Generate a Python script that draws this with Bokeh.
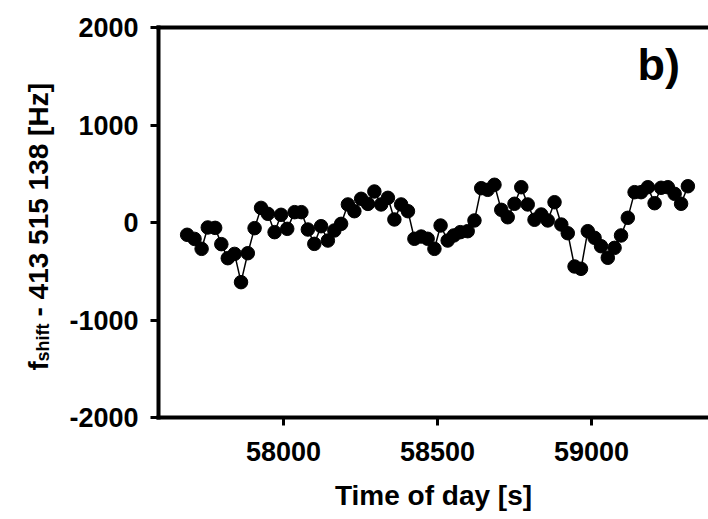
import math
from bokeh.plotting import figure
from bokeh.layouts import row
from bokeh.models import LinearAxis, FixedTicker, Label, Range1d
from bokeh.core.properties import value
from bokeh.embed import file_html
from bokeh.resources import INLINE

# ---- data ----
time_s = [57687, 57711, 57734, 57754, 57778, 57798, 57819, 57841, 57862, 57884,
          57906, 57927, 57949, 57971, 57992, 58012,
          58036, 58058, 58079, 58100, 58122, 58144, 58165, 58187, 58209, 58230,
          58252, 58274, 58295, 58317, 58339, 58360, 58382, 58404, 58425, 58447,
          58468, 58490, 58510,
          58533, 58553, 58574, 58598, 58620, 58642, 58663, 58685, 58707, 58728,
          58750, 58772, 58793, 58815, 58837, 58858, 58880, 58902, 58923, 58945,
          58966, 58988, 59010, 59031, 59053, 59075, 59096, 59118, 59140, 59161,
          59183, 59205, 59226, 59248, 59270, 59291, 59313]
f_shift = [-126, -168, -270, -51, -55, -222, -366, -322, -612, -315,
           -58, 150, 89, -99, 79, -65,
           106, 106, -72, -219, -38, -185, -82, -14, 185, 116,
           243, 191, 318, 185, 253, 31, 185, 116, -167, -144,
           -167, -270, -31,
           -185, -133, -99, -89, 21, 352, 335, 387, 130, 54,
           192, 362, 185, 28, 82, 21, 208, -21, -110, -451,
           -475, -89, -157, -243, -362, -260, -133, 48, 311, 311,
           362, 198, 356, 362, 294, 192, 372]
x_ticks = [58000, 58500, 59000]
y_ticks = [-2000, -1000, 0, 1000, 2000]
y_tick_labels = {-2000: "-2000", -1000: "-1000", 0: "0", 1000: "1000", 2000: "2000"}

X0, X1 = 57594, 59380
Y0, Y1 = -2000, 2000

FONT = "Liberation Sans"
W, H = 708, 519
LEFT_W = 62          # width of the strip holding the rotated y label
FRAME_L, FRAME_T, FRAME_B = 158, 27, 417   # page pixels

# ---------------- main plot ----------------
p = figure(width=W - LEFT_W, height=H, output_backend="svg", toolbar_location=None,
           x_range=Range1d(X0, X1), y_range=Range1d(Y0, Y1),
           min_border_left=FRAME_L - LEFT_W, min_border_right=0,
           min_border_top=FRAME_T, min_border_bottom=H - FRAME_B,
           x_axis_type=None, y_axis_type=None)
p.outline_line_color = None
p.xgrid.visible = False
p.ygrid.visible = False
p.background_fill_color = "white"
p.border_fill_color = "white"

def style_axis(ax):
    ax.axis_line_width = 4
    ax.axis_line_color = "black"
    ax.axis_line_cap = "square"
    ax.major_tick_line_width = 3
    ax.major_tick_line_color = "black"
    ax.major_tick_in = 0
    ax.major_tick_out = 8
    ax.minor_tick_line_color = None
    ax.major_label_text_font = FONT
    ax.major_label_text_font_style = "bold"
    ax.major_label_text_font_size = "27px"
    ax.major_label_text_color = "black"

xb = LinearAxis(ticker=FixedTicker(ticks=x_ticks))
style_axis(xb)
xb.major_label_standoff = 16
xb.axis_label = "Time of day [s]"
xb.axis_label_text_font = FONT
xb.axis_label_text_font_style = "bold"
xb.axis_label_text_font_size = "28px"
xb.axis_label_text_color = "black"
xb.axis_label_standoff = 16
p.add_layout(xb, "below")

yl = LinearAxis(ticker=FixedTicker(ticks=y_ticks))
style_axis(yl)
yl.major_label_standoff = 12
yl.major_label_overrides = y_tick_labels
p.add_layout(yl, "left")

xt = LinearAxis(ticker=FixedTicker(ticks=[]))
xt.axis_line_width = 4
xt.axis_line_color = "black"
xt.axis_line_cap = "square"
xt.major_tick_out = 0
xt.major_tick_in = 0
xt.minor_tick_out = 0
xt.minor_tick_in = 0
xt.major_label_standoff = 0
xt.major_label_text_font_size = "0px"
p.add_layout(xt, "above")

# data
p.line(time_s, f_shift, line_color="black", line_width=1.5)
p.scatter(time_s, f_shift, size=13.5, fill_color="black", line_color="black")

def y_at(sy):
    return Y1 - (sy - FRAME_T) * (Y1 - Y0) / (FRAME_B - FRAME_T)

def x_at(sx):
    return X0 + (sx - FRAME_L) * (X1 - X0) / (W - FRAME_L)

# panel letter
p.add_layout(Label(x=x_at(637), y=y_at(64), text="b)", text_font=FONT,
                   text_font_style="bold", text_font_size="45px",
                   text_align="left", text_baseline="alphabetic", text_color="black"))

# ---------------- y label strip (frame aligned with the main frame) ----------------
FH = FRAME_B - FRAME_T
q = figure(width=LEFT_W, height=H, output_backend="svg", toolbar_location=None,
           x_range=Range1d(0, LEFT_W), y_range=Range1d(0, FH),
           min_border_left=0, min_border_right=0,
           min_border_top=FRAME_T, min_border_bottom=H - FRAME_B,
           x_axis_type=None, y_axis_type=None)
q.outline_line_color = None
q.xgrid.visible = False
q.ygrid.visible = False
q.border_fill_color = "white"
q.background_fill_color = "white"

# label pieces: (baseline x, start y in page px, text, size)
lab_x = [37.5, 42.0, 37.5]
lab_sy = [370, 361, 316]
lab_text = ["f", "shift", "- 413 515 138 [Hz]"]
lab_size = ["28px", "18px", "28px"]
for lx, lsy, lt, ls in zip(lab_x, lab_sy, lab_text, lab_size):
    q.text(x=[lx], y=[FRAME_B - lsy], text=[lt], angle=math.pi / 2,
           text_font=value(FONT), text_font_style="bold", text_font_size=ls,
           text_align="left", text_baseline="alphabetic", text_color="black")

layout = row(q, p, spacing=0)
open("out.html", "w").write(file_html(layout, INLINE))
